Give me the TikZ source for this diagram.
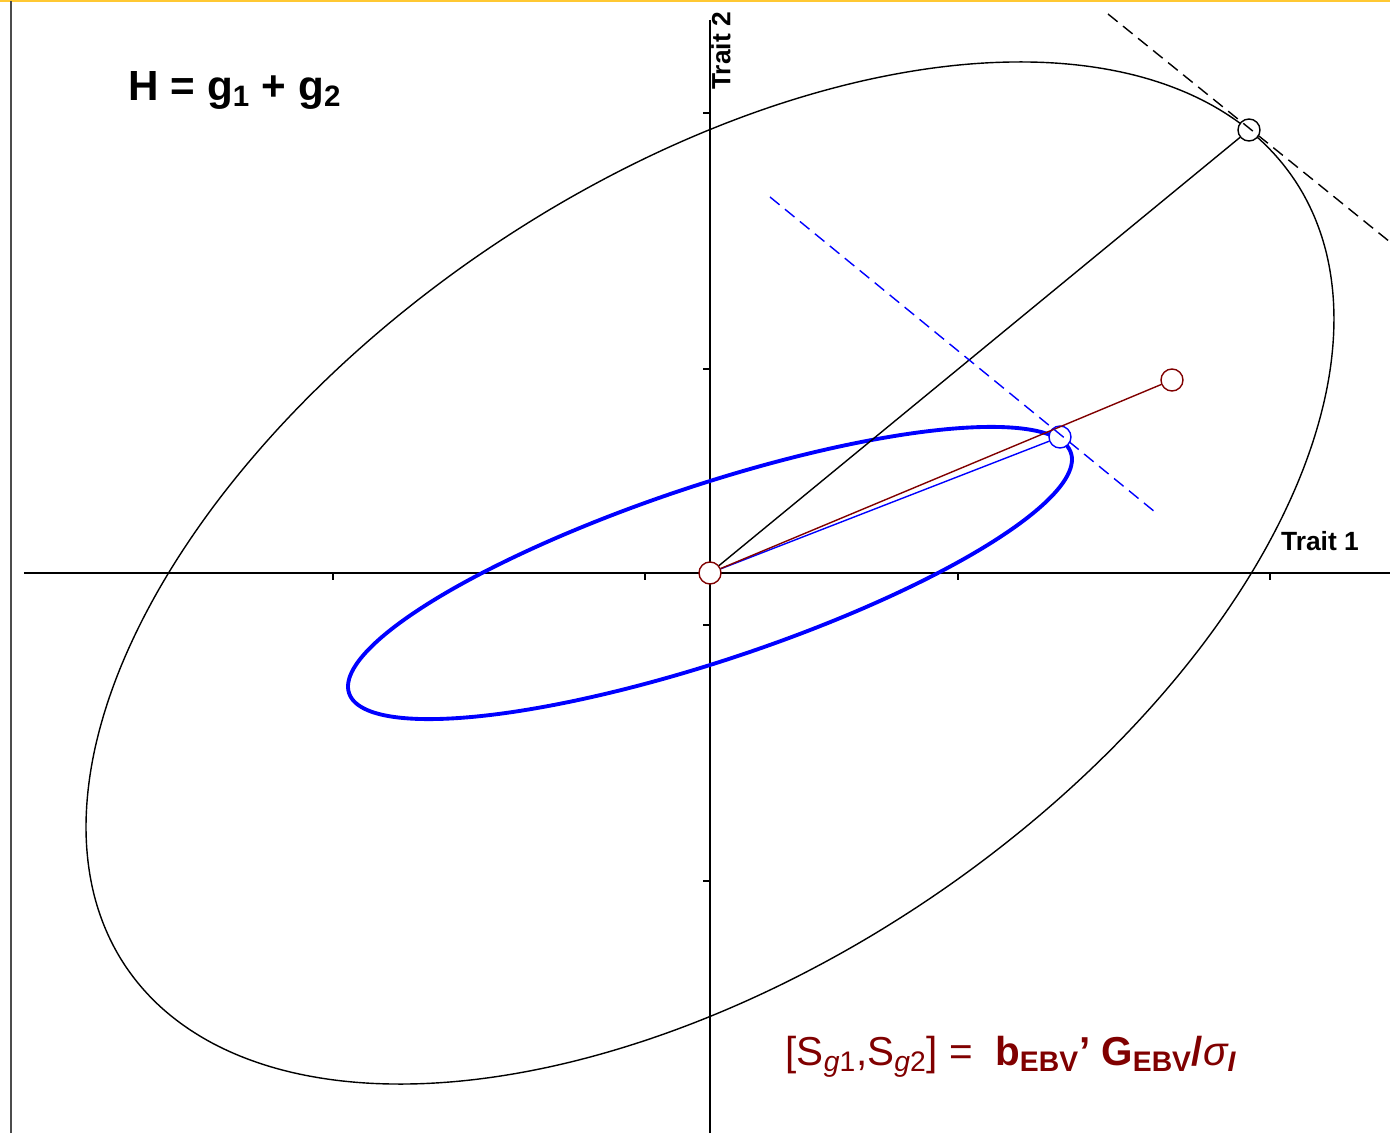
\documentclass[tikz,border=0pt]{standalone}
\usepackage{fontspec}
\setmainfont{Liberation Sans}
\definecolor{selred}{RGB}{128,0,0}
\definecolor{selblue}{RGB}{0,0,255}
\definecolor{slidegold}{RGB}{255,200,50}
\usetikzlibrary{positioning}

\begin{document}
\begin{tikzpicture}[x=0.02cm, y=0.02cm]
  \useasboundingbox (-710,-560) rectangle (680,573);
  \tikzset{ptdot/.style={circle, draw=#1, fill=white, line width=0.8pt, minimum size=0.44cm, inner sep=0pt}}

  % Slide edges
  \draw[slidegold, line width=1.2pt] (-710,572) -- (680,572);
  \draw[black!70, line width=1.4pt] (-699,-560) -- (-699,572);

  % Axes and ticks
  \draw[line width=1.1pt] (-686,0) -- (680,0);
  \draw[line width=1.1pt] (0,-560) -- (0,553);
  \foreach \tx in {-377,-65,248,560} \draw[line width=1.1pt] (\tx,0) -- (\tx,-7);
  \foreach \ty in {-308,-52,204,460} \draw[line width=1.1pt] (0,\ty) -- (-7,\ty);

  % Ellipses
  \draw[line width=0.8pt] plot[domain=0:360, samples=200, smooth] ({624*cos(\x)}, {254*cos(\x)+443.5*sin(\x)}) -- cycle;
  \draw[selblue, line width=2.2pt] plot[domain=0:360, samples=200, smooth] ({362*cos(\x)}, {113.5*cos(\x)+92*sin(\x)}) -- cycle;

  % Points
  \node[ptdot=selred] (orig) at (0,0) {};
  \node[ptdot=black] (hpt) at (539,443) {};
  \node[ptdot=selblue] (ebvpt) at (350,136) {};
  \node[ptdot=selred] (sdir) at (462,193) {};

  % Connectors
  \draw[line width=0.8pt] (orig) -- (hpt);
  \draw[selblue, line width=0.8pt] (orig) -- (ebvpt);
  \draw[selred, line width=0.8pt] (orig) -- (sdir);

  % Tangent lines
  \coordinate (tanA) at (398,559);
  \coordinate (tanB) at (680,331);
  \coordinate (ebvA) at (60,376);
  \coordinate (ebvB) at (445,61);
  \draw[line width=0.8pt, dash pattern=on 7pt off 4pt] (tanA) -- (tanB);
  \draw[selblue, line width=0.8pt, dash pattern=on 7pt off 4pt] (ebvA) -- (ebvB);

  % Labels
  \node[font=\fontsize{24}{28}\selectfont\bfseries] (hlabel) at (-475,483) {H = g\textsubscript{1} + g\textsubscript{2}};
  \node[font=\fontsize{15}{18}\selectfont\bfseries] (t1label) at (610,32) {Trait 1};
  \node[font=\fontsize{15}{18}\selectfont\bfseries, rotate=90] (t2label) at (11,522) {Trait 2};
  \node[font=\fontsize{23}{27}\selectfont, text=selred] (sdlabel) at (301,-484) {[S\textsubscript{\itshape g\upshape 1},S\textsubscript{\itshape g\upshape 2}] = \ \textbf{b\textsubscript{EBV}’ G\textsubscript{EBV}/}{\itshape σ\textsubscript{\bfseries I}}};
\end{tikzpicture}
\end{document}
